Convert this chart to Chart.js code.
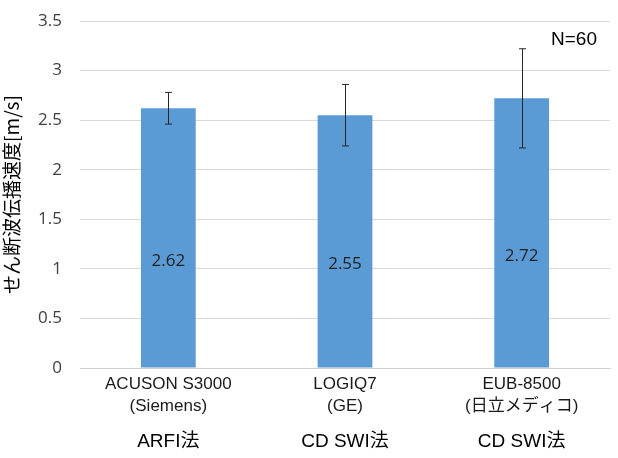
<!DOCTYPE html>
<html>
<head>
<meta charset="utf-8">
<script src="https://cdn.jsdelivr.net/npm/chart.js@4"></script>
<style>
  html, body { margin: 0; padding: 0; background: #fff; }
  #wrap { width: 618px; height: 458px; position: relative; }
</style>
</head>
<body>
<div id="wrap"><canvas id="chart"></canvas></div>
<script>
// values
const devices = [['ACUSON S3000', '(Siemens)'], ['LOGIQ7', '(GE)'], ['EUB-8500', '(日立メディコ)']];
const methods = ['ARFI法', 'CD SWI法', 'CD SWI法'];
const speeds = [2.62, 2.55, 2.72];
const errors = [0.16, 0.31, 0.5];
const yTicks = [0, 0.5, 1, 1.5, 2, 2.5, 3, 3.5];
const sampleNote = 'N=60';

const jpFont = "'Liberation Sans', 'Noto Sans CJK JP', sans-serif";
const numFont = "'Open Sans', sans-serif";

// error bars with caps
const errorBars = {
    id: 'errorBars',
    afterDatasetsDraw(chart) {
        const ctx = chart.ctx;
        const y = chart.scales.y;
        const meta = chart.getDatasetMeta(0);
        ctx.save();
        ctx.strokeStyle = '#262626';
        ctx.lineWidth = 1;
        meta.data.forEach((bar, i) => {
            const x = Math.round(bar.x) + 0.5;
            const top = y.getPixelForValue(speeds[i] + errors[i]);
            const bot = y.getPixelForValue(speeds[i] - errors[i]);
            ctx.beginPath();
            ctx.moveTo(x, top); ctx.lineTo(x, bot);
            ctx.moveTo(x - 3.5, top); ctx.lineTo(x + 3.5, top);
            ctx.moveTo(x - 3.5, bot); ctx.lineTo(x + 3.5, bot);
            ctx.stroke();
        });
        ctx.restore();
    }
};

// value labels inside bars + N note
const valueLabels = {
    id: 'valueLabels',
    afterDraw(chart) {
        const ctx = chart.ctx;
        const meta = chart.getDatasetMeta(0);
        ctx.save();
        ctx.fillStyle = '#1f1f1f';
        ctx.font = '17px ' + numFont;
        ctx.textAlign = 'center';
        ctx.textBaseline = 'middle';
        meta.data.forEach((bar, i) => {
            const mid = (bar.y + bar.base) / 2;
            ctx.fillText(speeds[i].toFixed(2), bar.x, mid + 23);
        });
        ctx.font = '19px ' + jpFont;
        ctx.textAlign = 'right';
        ctx.fillStyle = '#000';
        ctx.fillText(sampleNote, 597, 40);
        ctx.restore();
    }
};

new Chart(document.getElementById('chart'), {
    type: 'bar',
    data: {
        labels: devices,
        datasets: [{
            data: speeds,
            backgroundColor: '#5b9bd5',
            borderWidth: 0,
            categoryPercentage: 1,
            barPercentage: 0.31
        }]
    },
    options: {
        responsive: true,
        maintainAspectRatio: false,
        animation: false,
        layout: { padding: { top: 21, right: 8, left: 0, bottom: 0 } },
        plugins: {
            legend: { display: false },
            tooltip: { enabled: false }
        },
        scales: {
            y: {
                min: 0,
                max: 3.5,
                afterBuildTicks: (scale) => { scale.ticks = yTicks.map(v => ({ value: v })); },
                afterFit: (scale) => { scale.width = 80; scale.paddingTop = 0; scale.paddingBottom = 0; },
                grid: { color: '#d9d9d9', drawTicks: false },
                border: { display: false },
                ticks: {
                    padding: 18,
                    color: '#404040',
                    font: { family: numFont, size: 17 },
                    callback: (v) => String(v)
                },
                title: {
                    display: true,
                    text: 'せん断波伝播速度[m/s]',
                    color: '#000',
                    font: { family: "'Noto Sans CJK JP', sans-serif", size: 19 },
                    padding: { top: 0, bottom: 0 }
                }
            },
            x: {
                grid: { display: false, drawTicks: false },
                border: { display: true, color: '#d0d0d0' },
                afterFit: (scale) => { scale.height = 58; scale.paddingLeft = 0; scale.paddingRight = 0; },
                ticks: {
                    padding: 5,
                    color: '#1a1a1a',
                    maxRotation: 0,
                    autoSkip: false,
                    font: { family: jpFont, size: 17, lineHeight: 1.3 }
                }
            },
            x2: {
                type: 'category',
                labels: methods,
                position: 'bottom',
                offset: true,
                grid: { display: false, drawTicks: false },
                border: { display: false },
                afterFit: (scale) => { scale.height = 32; scale.paddingLeft = 0; scale.paddingRight = 0; },
                ticks: {
                    padding: 4,
                    color: '#000',
                    maxRotation: 0,
                    autoSkip: false,
                    font: { family: jpFont, size: 19 }
                }
            }
        }
    },
    plugins: [errorBars, valueLabels]
});
</script>
</body>
</html>
